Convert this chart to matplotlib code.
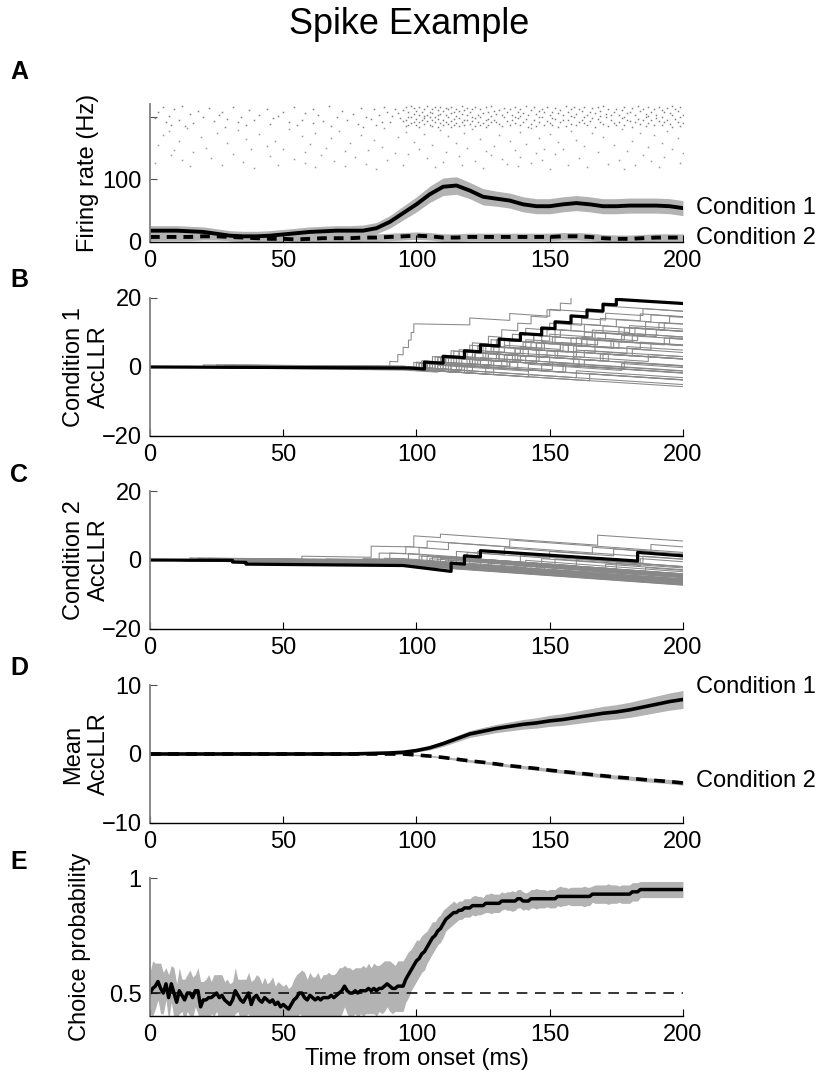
import numpy as np
import matplotlib
matplotlib.use('Agg')
import matplotlib.pyplot as plt

plt.rcParams['font.family'] = ['Liberation Sans', 'DejaVu Sans']

# ---------------- Panel A: firing rate (Hz), every 5 ms ----------------
rate_t = list(range(0, 201, 5))
rate_c1 = [18, 18, 18, 17, 16, 13, 10, 9, 9, 10, 12, 14, 16, 17, 18, 18, 18, 22, 32, 46, 60,
           76, 88, 90, 82, 72, 69, 66, 60, 57, 57, 60, 62, 60, 57, 57, 58, 58, 58, 57, 54]
rate_c1_sem = [8, 8, 8, 8, 8, 8, 8, 8, 8, 8, 8, 8, 8, 8, 8, 8, 9, 9, 10, 11, 12,
               13, 14, 14, 13, 13, 12, 12, 12, 12, 12, 12, 12, 12, 12, 12, 12, 12, 12, 12, 12]
rate_c2 = [8, 8, 8, 8, 9, 9, 8, 7, 6, 5, 5, 4, 5, 6, 6, 6, 7, 7, 8, 9, 10,
           9, 7, 7, 8, 8, 8, 8, 8, 8, 8, 9, 9, 8, 6, 5, 5, 6, 7, 7, 7]
rate_c2_sem = [6] * 41

# spike rasters (ms), one list per trial
raster_c1 = [
    [12, 67, 98, 104, 117, 128, 141, 156, 170, 183, 196],
    [31, 88, 101, 109, 122, 137, 149, 163, 178, 191],
    [5, 54, 96, 107, 113, 126, 144, 159, 168, 187, 199],
    [22, 79, 99, 111, 119, 133, 152, 166, 181, 194],
    [44, 92, 103, 115, 124, 139, 147, 161, 175, 189],
    [9, 61, 84, 106, 112, 121, 135, 158, 172, 185, 197],
    [37, 95, 108, 118, 131, 143, 154, 177, 192],
    [18, 72, 100, 110, 116, 129, 146, 162, 169, 184, 198],
    [50, 89, 105, 114, 127, 138, 151, 165, 180, 193],
    [3, 27, 97, 102, 120, 134, 148, 157, 174, 188],
    [58, 93, 106, 113, 125, 140, 153, 167, 179, 195],
    [15, 76, 99, 109, 117, 130, 145, 160, 171, 186],
    [41, 86, 104, 111, 123, 136, 150, 164, 176, 190, 200],
    [26, 63, 101, 108, 119, 132, 142, 155, 173, 182, 196],
    [7, 48, 91, 103, 115, 128, 139, 158, 169, 187],
    [34, 81, 98, 107, 121, 137, 146, 163, 178, 192],
    [20, 70, 97, 105, 112, 124, 133, 147, 159, 171, 186, 199],
    [2, 46, 94, 103, 116, 122, 138, 151, 166, 177, 190],
    [29, 83, 100, 108, 114, 127, 141, 152, 168, 183, 197],
    [11, 57, 96, 110, 118, 129, 136, 155, 162, 179, 188],
    [39, 74, 102, 106, 119, 126, 144, 157, 173, 185, 194],
    [24, 65, 95, 104, 113, 121, 134, 149, 165, 180, 191],
    [6, 52, 87, 101, 111, 123, 130, 146, 161, 176, 198],
    [33, 90, 99, 107, 117, 128, 140, 154, 169, 182, 193],
    [16, 61, 98, 109, 115, 125, 137, 150, 163, 174, 187, 200],
    [45, 78, 103, 112, 120, 131, 143, 158, 170, 184, 195],
    [8, 36, 97, 105, 114, 124, 139, 148, 164, 178, 189],
    [55, 85, 100, 110, 118, 127, 135, 151, 160, 175, 192],
    [13, 68, 96, 106, 116, 122, 132, 145, 156, 172, 186, 199],
    [28, 80, 101, 108, 113, 126, 142, 153, 167, 181, 196],
]
raster_c2 = [
    [14, 88, 143], [52, 121, 177], [33, 109], [7, 71, 158, 194], [96, 139],
    [25, 62, 184], [118, 166], [41, 103, 150], [5, 79, 131, 189], [57, 112],
    [19, 93, 170], [68, 146, 198], [36, 124], [84, 160], [11, 47, 135, 181],
    [99, 153], [29, 75, 115, 192], [60, 141], [3, 106, 174], [44, 129, 163],
    [87, 187], [21, 66, 119], [50, 148, 196], [38, 101, 155], [9, 82, 137],
    [73, 126, 179], [16, 58, 111, 168], [92, 145, 200],
    [31, 97, 152], [8, 64, 128, 185], [45, 116], [77, 139, 193], [23, 104, 161],
    [54, 132], [12, 89, 147, 176], [69, 122, 188], [35, 110], [2, 58, 143, 199],
    [81, 134, 172], [27, 95, 157], [48, 117, 182], [15, 73, 138], [62, 107, 164, 191],
    [39, 125], [85, 150, 178],
]

# ---------------- Panels B, C: single-trial AccLLR ----------------
# each trace: flat list of (time, value before step, value after step)
b_traces = [
    [0, 0, 0, 95, -0.5, -0.5, 104, -1.0, 1.2, 110, 0.9, 3.1, 116, 2.8, 5.0, 121, 4.8, 7.0, 127, 6.7, 8.9,
     132, 8.6, 10.8, 138, 10.5, 12.7, 143, 12.5, 14.7, 149, 14.4, 16.6, 154, 16.3, 18.5, 158, 18.3, 20.5, 160, 20.4, 20.4],
    [0, 0, 0, 90, -0.4, 1.6, 93, 1.5, 3.6, 95, 3.5, 5.7, 97, 5.6, 7.8, 98, 7.8, 10.0, 99, 10.0, 12.5,
     120, 12.2, 14.2, 135, 13.5, 15.5, 150, 14.7, 16.7, 170, 15.7, 17.7, 200, 16.2, 16.2],
    [0, 0, 0, 95, -0.5, -0.5, 103, -0.9, 1.1, 112, 0.7, 2.7, 118, 2.4, 4.4, 126, 4.0, 6.0, 135, 5.6, 7.6,
     144, 7.2, 9.2, 152, 8.8, 10.8, 163, 10.3, 12.3, 175, 11.7, 13.7, 188, 13.1, 15.1, 200, 14.5, 14.5],
    [0, 0, 0, 60, -0.3, 0.4, 95, 0.1, 0.1, 107, -0.5, 1.5, 115, 1.1, 3.1, 122, 2.8, 4.8, 133, 4.3, 6.3,
     141, 5.9, 7.9, 150, 7.5, 9.5, 166, 8.7, 10.7, 180, 10.0, 12.0, 200, 11.0, 11.0],
    [0, 0, 0, 95, -0.5, -0.5, 100, -0.7, 1.3, 109, 0.9, 2.9, 121, 2.3, 4.3, 129, 3.9, 5.9, 143, 5.2, 7.2,
     158, 6.4, 8.4, 171, 7.8, 9.8, 186, 9.1, 11.1, 200, 10.4, 10.4],
    [0, 0, 0, 35, -0.2, 0.5, 95, 0.0, 0.0, 111, -0.8, 1.2, 119, 0.8, 2.8, 130, 2.3, 4.3, 139, 3.9, 5.9,
     154, 5.1, 7.1, 168, 6.4, 8.4, 183, 7.6, 9.6, 200, 8.7, 8.7],
    [0, 0, 0, 95, -0.5, -0.5, 106, -1.0, 1.0, 114, 0.6, 2.6, 127, 1.9, 3.9, 146, 2.9, 4.9, 155, 4.4, 6.4,
     162, 6.0, 8.0, 177, 7.2, 9.2, 200, 8.1, 8.1],
    [0, 0, 0, 95, -0.5, -0.5, 99, -0.7, 1.3, 116, 0.5, 2.5, 131, 1.7, 3.7, 140, 3.2, 5.2, 157, 4.3, 6.3,
     174, 5.4, 7.4, 193, 6.4, 8.4, 200, 8.0, 8.0],
    [0, 0, 0, 95, -0.5, -0.5, 108, -1.1, 0.9, 120, 0.3, 2.3, 136, 1.5, 3.5, 149, 2.9, 4.9, 167, 4.0, 6.0,
     184, 5.2, 7.2, 200, 6.4, 6.4],
    [0, 0, 0, 20, -0.1, 0.6, 95, 0.2, 0.2, 102, -0.2, 1.8, 124, 0.7, 2.7, 138, 2.0, 4.0, 160, 2.9, 4.9,
     179, 3.9, 5.9, 200, 4.9, 4.9],
    [0, 0, 0, 95, -0.5, -0.5, 113, -1.4, 0.6, 122, 0.2, 2.2, 141, 1.2, 3.2, 153, 2.6, 4.6, 181, 3.2, 5.2,
     200, 4.2, 4.2],
    [0, 0, 0, 95, -0.5, -0.5, 118, -1.6, 0.4, 127, 0.0, 2.0, 150, 0.8, 2.8, 172, 1.7, 3.7, 200, 2.3, 2.3],
    [0, 0, 0, 70, -0.4, 0.3, 95, 0.1, 0.1, 121, -1.2, 0.8, 134, 0.2, 2.2, 159, 1.0, 3.0, 187, 1.6, 3.6,
     200, 3.0, 3.0],
    [0, 0, 0, 95, -0.5, -0.5, 104, -0.9, 1.1, 132, -0.3, 1.7, 163, 0.1, 2.1, 200, 0.3, 0.3],
    [0, 0, 0, 95, -0.5, -0.5, 126, -2.0, 0.0, 147, -1.0, 1.0, 178, -0.5, 1.5, 200, 0.4, 0.4],
    [0, 0, 0, 45, -0.3, 0.4, 95, 0.0, 0.0, 115, -1.0, 1.0, 151, -0.8, 1.2, 200, -1.2, -1.2],
    [0, 0, 0, 95, -0.5, -0.5, 110, -1.2, 0.8, 156, -1.5, 0.5, 200, -1.7, -1.7],
    [0, 0, 0, 95, -0.5, -0.5, 119, -1.7, 0.3, 200, -3.7, -3.7],
    [0, 0, 0, 25, -0.1, 0.6, 95, 0.2, 0.2, 160, -3.1, -1.1, 200, -3.1, -3.1],
    [0, 0, 0, 95, -0.5, -0.5, 200, -5.7, -5.7],
    [0, 0, 0, 55, -0.3, 0.4, 95, 0.1, 0.1, 200, -5.1, -5.1],
    [0, 0, 0, 95, -0.5, -0.5, 165, -4.0, -2.0, 200, -3.7, -3.7],
    [0, 0, 0, 95, -0.5, -0.5, 101, -0.8, 1.2, 106, 1.0, 3.0, 114, 2.6, 4.6, 125, 4.1, 6.1, 133, 5.7, 7.7,
     147, 7.0, 9.0, 154, 8.7, 10.7, 170, 9.9, 11.9, 186, 11.1, 13.1, 195, 12.6, 14.6, 200, 14.4, 14.4],
    [0, 0, 0, 95, -0.5, -0.5, 105, -1.0, 1.0, 123, 0.1, 2.1, 131, 1.7, 3.7, 152, 2.7, 4.7, 160, 4.3, 6.3,
     188, 4.9, 6.9, 200, 6.3, 6.3],
    [0, 0, 0, 95, -0.5, -0.5, 112, -1.4, 0.6, 129, -0.2, 1.8, 145, 1.0, 3.0, 170, 1.8, 3.8, 200, 2.3, 2.3],
    [0, 0, 0, 30, -0.2, 0.5, 95, 0.2, 0.2, 117, -0.9, 1.1, 135, 0.2, 2.2, 200, -1.1, -1.1],
    [0, 0, 0, 95, -0.9, -0.9, 108, -1.5, 0.5, 142, -1.2, 0.8, 177, -1.0, 1.0, 200, -0.2, -0.2],
    [0, 0, 0, 95, -0.5, -0.5, 102, -0.9, 1.1, 108, 0.8, 2.8, 119, 2.3, 4.3, 128, 3.8, 5.8, 140, 5.2, 7.2,
     151, 6.7, 8.7, 163, 8.1, 10.1, 176, 9.5, 11.5, 200, 10.3, 10.3],
    [0, 0, 0, 95, -0.6, -0.6, 109, -1.3, 0.7, 121, 0.1, 2.1, 134, 1.5, 3.5, 142, 3.1, 5.1, 159, 4.3, 6.3,
     173, 5.6, 7.6, 195, 6.5, 8.5, 200, 8.3, 8.3],
    [0, 0, 0, 95, -0.4, -0.4, 100, -0.6, 1.4, 113, 0.8, 2.8, 125, 2.2, 4.2, 131, 3.9, 5.9, 145, 5.2, 7.2,
     160, 6.5, 8.5, 167, 8.1, 10.1, 182, 9.4, 11.4, 191, 10.9, 12.9, 200, 12.5, 12.5],
    [0, 0, 0, 95, -0.5, -0.5, 116, -1.5, 0.5, 135, -0.5, 1.5, 161, 0.2, 2.2, 200, 0.2, 0.2],
    [0, 0, 0, 95, -0.5, -0.5, 129, -2.2, -0.2, 155, -1.5, 0.5, 200, -1.8, -1.8],
    [0, 0, 0, 95, -0.5, -0.5, 104, -1.0, 1.0, 111, 0.6, 2.6, 122, 2.1, 4.1, 137, 3.3, 5.3, 148, 4.8, 6.8,
     164, 6.0, 8.0, 200, 6.2, 6.2],
    [0, 0, 0, 95, -0.5, -0.5, 100, -0.7, 1.3, 107, 1.0, 3.0, 113, 2.7, 4.7, 120, 4.3, 6.3, 128, 5.9, 7.9,
     136, 7.5, 9.5, 141, 9.2, 11.2, 150, 10.7, 12.7, 162, 12.1, 14.1, 171, 13.6, 15.6, 185, 14.9, 16.9,
     200, 16.1, 16.1],
    [0, 0, 0, 28, -0.2, 0.5, 95, 0.1, 0.1, 103, -0.3, 1.7, 111, 1.3, 3.3, 126, 2.5, 4.5, 139, 3.8, 5.8,
     147, 5.4, 7.4, 162, 6.6, 8.6, 178, 7.8, 9.8, 200, 8.7, 8.7],
    [0, 0, 0, 95, -0.5, -0.5, 105, -1.0, 1.0, 117, 0.4, 2.4, 133, 1.6, 3.6, 145, 3.0, 5.0, 154, 4.5, 6.5,
     176, 5.4, 7.4, 200, 6.2, 6.2],
    [0, 0, 0, 95, -0.5, -0.5, 110, -1.2, 0.8, 124, 0.1, 2.1, 139, 1.3, 3.3, 169, 1.8, 3.8, 200, 2.3, 2.3],
    [0, 0, 0, 65, -0.4, 0.3, 95, 0.1, 0.1, 107, -0.5, 1.5, 128, 0.5, 2.5, 146, 1.6, 3.6, 163, 2.8, 4.8,
     200, 3.0, 3.0],
    [0, 0, 0, 95, -0.5, -0.5, 113, -1.4, 0.6, 138, -0.6, 1.4, 200, -1.7, -1.7],
    [0, 0, 0, 95, -0.5, -0.5, 101, -0.8, 1.2, 108, 0.9, 2.9, 116, 2.5, 4.5, 123, 4.2, 6.2, 130, 5.9, 7.9,
     144, 7.2, 9.2, 149, 9.0, 11.0, 158, 10.6, 12.6, 169, 12.1, 14.1, 184, 13.4, 15.4, 200, 14.6, 14.6],
    [0, 0, 0, 95, -0.5, -0.5, 104, -1.0, 1.0, 120, 0.2, 2.2, 127, 1.9, 3.9, 142, 3.1, 5.1, 157, 4.4, 6.4,
     167, 5.9, 7.9, 181, 7.2, 9.2, 190, 8.8, 10.8, 200, 10.3, 10.3],
    [0, 0, 0, 95, -0.5, -0.5, 142, -2.9, -0.9, 200, -3.8, -3.8],
    [0, 0, 0, 95, -0.5, -0.5, 106, -1.0, 1.0, 121, 0.3, 2.3, 137, 1.5, 3.5, 159, 2.4, 4.4, 200, 2.4, 2.4],
    [0, 0, 0, 95, -0.5, -0.5, 103, -0.9, 1.1, 115, 0.5, 2.5, 122, 2.2, 4.2, 137, 3.4, 5.4, 145, 5.0, 7.0,
     152, 6.7, 8.7, 166, 8.0, 10.0, 178, 9.4, 11.4, 193, 10.7, 12.7, 200, 12.4, 12.4],
]
b_black = [0, 0, 0, 97, -0.3, -0.3, 103, -0.6, 1.4, 110, 1.1, 3.1, 118, 2.7, 4.7, 124, 4.4, 6.4,
           131, 6.1, 8.1, 139, 7.7, 9.7, 147, 9.3, 11.3, 152, 11.1, 13.1, 158, 12.8, 14.8,
           164, 14.5, 16.5, 170, 16.2, 18.2, 175, 18.0, 19.6, 200, 18.4, 18.4]

c_traces = [
    [0, 0, 0, 95, -1.2, -1.2, 200, -7.0, -7.0],
    [0, 0, 0, 95, -0.9, -0.9, 200, -6.7, -6.7],
    [0, 0, 0, 40, -0.4, 0.3, 95, -0.3, -0.3, 200, -6.1, -6.1],
    [0, 0, 0, 95, -1.0, -1.0, 200, -6.8, -6.8],
    [0, 0, 0, 62, -0.6, 0.1, 95, -0.3, -0.3, 200, -6.2, -6.2],
    [0, 0, 0, 95, -0.7, -0.7, 200, -6.5, -6.5],
    [0, 0, 0, 18, -0.2, 0.5, 80, -0.3, 0.4, 95, 0.2, 0.2, 200, -5.6, -5.6],
    [0, 0, 0, 95, -0.8, -0.8, 178, -5.4, -3.4, 200, -4.6, -4.6],
    [0, 0, 0, 50, -0.5, 0.2, 95, -0.3, -0.3, 200, -6.0, -6.0],
    [0, 0, 0, 95, -1.1, -1.1, 156, -4.5, -2.5, 200, -4.9, -4.9],
    [0, 0, 0, 33, -0.3, 0.4, 95, -0.3, -0.3, 133, -2.4, -0.4, 200, -4.1, -4.1],
    [0, 0, 0, 95, -0.6, -0.6, 200, -6.3, -6.3],
    [0, 0, 0, 72, -0.7, 0.0, 95, -0.3, -0.3, 189, -5.5, -3.5, 200, -4.1, -4.1],
    [0, 0, 0, 95, -0.9, -0.9, 118, -2.2, -0.2, 200, -4.7, -4.7],
    [0, 0, 0, 57, -0.6, 0.1, 88, -0.2, 0.5, 95, 0.4, 0.4, 141, -2.1, -0.1, 200, -3.4, -3.4],
    [0, 0, 0, 95, -0.8, -0.8, 200, -6.6, -6.6],
    [0, 0, 0, 26, -0.3, 0.4, 95, -0.2, -0.2, 104, -0.7, 1.3, 200, -4.0, -4.0],
    [0, 0, 0, 95, -1.0, -1.0, 127, -2.8, -0.8, 171, -3.2, -1.2, 200, -2.8, -2.8],
    [0, 0, 0, 45, -0.4, 0.3, 95, -0.2, -0.2, 112, -1.1, 0.9, 160, -1.7, 0.3, 200, -1.9, -1.9],
    [0, 0, 0, 95, -0.7, -0.7, 109, -1.5, 0.5, 147, -1.6, 0.4, 184, -1.6, 0.4, 200, -0.5, -0.5],
    [0, 0, 0, 57, -0.5, 1.1, 83, 0.8, 4.0, 99, 3.8, 7.0, 109, 6.5, 7.5, 168, 4.3, 7.2, 200, 5.5, 5.5],
    [0, 0, 0, 66, -0.5, 0.3, 90, 0.1, 2.0, 101, 1.6, 3.6, 112, 3.0, 5.0, 200, 0.2, 0.2],
    [0, 0, 0, 95, -0.5, -0.5, 106, -1.1, 0.9, 119, 0.2, 2.2, 150, 0.5, 2.5, 174, 1.2, 3.2, 200, 1.8, 1.8],
    [0, 0, 0, 80, -0.7, 0.0, 97, -0.1, 1.9, 123, 0.5, 2.5, 185, -0.9, 1.1, 200, 0.3, 0.3],
    [0, 0, 0, 95, -0.4, -0.4, 102, -0.8, 1.2, 115, 0.5, 2.5, 133, 1.5, 3.5, 166, 1.7, 3.7, 188, 2.5, 4.5,
     200, 3.8, 3.8],
    [0, 0, 0, 95, -1.3, -1.3, 200, -7.1, -7.1],
    [0, 0, 0, 95, -1.1, -1.1, 200, -6.9, -6.9],
    [0, 0, 0, 39, -0.4, 0.3, 95, -0.2, -0.2, 200, -5.9, -5.9],
    [0, 0, 0, 95, -0.6, -0.6, 200, -6.4, -6.4],
    [0, 0, 0, 95, -0.9, -0.9, 148, -3.8, -1.8, 200, -4.7, -4.7],
    [0, 0, 0, 22, -0.2, 0.5, 95, -0.1, -0.1, 200, -5.8, -5.8],
    [0, 0, 0, 95, -1.4, -1.4, 200, -7.2, -7.2],
    [0, 0, 0, 95, -0.2, -0.2, 200, -5.4, -5.4],
    [0, 0, 0, 76, -0.7, 0.0, 95, -0.2, -0.2, 200, -5.0, -5.0],
    [0, 0, 0, 95, -0.6, -0.6, 113, -1.6, 0.4, 200, -4.4, -4.4],
    [0, 0, 0, 95, -1.5, -1.5, 200, -7.3, -7.3],
    [0, 0, 0, 95, -1.2, -1.2, 132, -3.2, -1.2, 200, -5.0, -5.0],
    [0, 0, 0, 48, -0.5, 0.2, 95, -0.2, -0.2, 120, -1.6, 0.4, 200, -4.0, -4.0],
    [0, 0, 0, 95, -0.85, -0.85, 200, -6.6, -6.6],
    [0, 0, 0, 95, -1.0, -1.0, 105, -1.6, 0.4, 200, -4.8, -4.8],
    [0, 0, 0, 30, -0.3, 0.4, 95, -0.3, -0.3, 162, -4.0, -2.0, 200, -4.1, -4.1],
    [0, 0, 0, 95, -0.6, -0.6, 115, -1.7, 0.3, 152, -1.7, 0.3, 200, -2.3, -2.3],
    [0, 0, 0, 95, -1.3, -1.3, 137, -3.6, -1.6, 200, -5.1, -5.1],
    [0, 0, 0, 67, -0.6, 0.1, 95, -0.2, -0.2, 108, -0.9, 1.1, 139, -0.6, 1.4, 200, -1.9, -1.9],
    [0, 0, 0, 95, -0.4, -0.4, 170, -4.5, -2.5, 200, -4.2, -4.2],
    [0, 0, 0, 95, -1.0, -1.0, 200, -6.4, -6.4],
    [0, 0, 0, 53, -0.5, 0.2, 95, -0.2, -0.2, 200, -5.7, -5.7],
    [0, 0, 0, 95, -0.7, -0.7, 124, -2.3, -0.3, 200, -4.5, -4.5],
    [0, 0, 0, 95, -1.2, -1.2, 143, -3.8, -1.8, 186, -4.2, -2.2, 200, -3.0, -3.0],
    [0, 0, 0, 95, -0.5, -0.5, 101, -0.8, 1.2, 200, -4.2, -4.2],
    [0, 0, 0, 84, -0.8, -0.1, 95, -0.2, -0.2, 128, -2.0, 0.0, 175, -2.6, -0.6, 200, -2.0, -2.0],
    [0, 0, 0, 95, -0.9, -0.9, 200, -6.2, -6.2],
    [0, 0, 0, 95, -1.1, -1.1, 111, -2.0, 0.0, 200, -4.9, -4.9],
    [0, 0, 0, 15, -0.1, 0.6, 95, 0.0, 0.0, 200, -5.5, -5.5],
    [0, 0, 0, 95, -0.6, -0.6, 145, -3.3, -1.3, 200, -4.3, -4.3],
    [0, 0, 0, 61, -0.5, 0.2, 86, 0.0, 2.0, 96, 1.9, 3.9, 104, 3.5, 5.5, 135, 3.8, 5.8, 200, 2.2, 2.2],
]
c_black = [0, 0, 0, 31, -0.1, -0.6, 36, -0.7, -1.2, 95, -1.6, -1.6, 113, -3.3, -0.9, 118, -1.2, 1.2,
           124, 0.9, 2.7, 183, -0.3, 2.2, 200, 1.2, 1.2]

# ---------------- Panel D: mean AccLLR, every 5 ms ----------------
d_t = list(range(0, 201, 5))
d_c1 = [0, 0, 0, 0, 0, 0, 0, 0, 0, 0, 0, 0, 0, 0, 0, 0, 0.05, 0.1, 0.15, 0.25, 0.5,
        0.9, 1.5, 2.2, 2.9, 3.3, 3.7, 4.0, 4.3, 4.5, 4.8, 5.0, 5.3, 5.6, 5.9, 6.1, 6.4, 6.8, 7.2, 7.6, 7.9]
d_c1_sem = [0.05] * 16 + [0.08, 0.1, 0.12, 0.15, 0.2, 0.3, 0.4, 0.45, 0.5, 0.55, 0.6, 0.65, 0.7, 0.75, 0.8,
                          0.85, 0.9, 0.95, 1.0, 1.05, 1.1, 1.15, 1.2, 1.25, 1.3]
d_c2 = [0] * 20 + [-0.15, -0.3, -0.5, -0.75, -1.0, -1.2, -1.45, -1.7, -1.9, -2.1, -2.35, -2.55, -2.75,
                   -2.95, -3.15, -3.35, -3.5, -3.7, -3.85, -4.0, -4.2]
d_c2_sem = [0.05] * 20 + [0.1, 0.12, 0.15, 0.17, 0.2, 0.2, 0.22, 0.22, 0.25, 0.25, 0.25, 0.27, 0.27,
                          0.28, 0.28, 0.3, 0.3, 0.3, 0.3, 0.32, 0.32]

# ---------------- Panel E: choice probability, every 1 ms ----------------
e_t = list(range(0, 201))
e_cp = [0.50, 0.52, 0.53, 0.55, 0.52, 0.50, 0.54, 0.48, 0.54, 0.50,
        0.46, 0.51, 0.49, 0.47, 0.50, 0.50, 0.48, 0.51, 0.51, 0.44,
        0.47, 0.47, 0.48, 0.48, 0.49, 0.50, 0.48, 0.49, 0.47, 0.46,
        0.45, 0.47, 0.51, 0.49, 0.47, 0.46, 0.48, 0.50, 0.45, 0.48,
        0.49, 0.47, 0.46, 0.48, 0.47, 0.46, 0.47, 0.45, 0.46, 0.44,
        0.45, 0.44, 0.43, 0.45, 0.47, 0.48, 0.50, 0.50, 0.48, 0.47,
        0.49, 0.48, 0.47, 0.48, 0.47, 0.48, 0.48, 0.48, 0.49, 0.48,
        0.49, 0.50, 0.51, 0.53, 0.51, 0.50, 0.50, 0.51, 0.50, 0.51,
        0.51, 0.51, 0.52, 0.51, 0.52, 0.51, 0.52, 0.52, 0.53, 0.54,
        0.53, 0.52, 0.52, 0.53, 0.53, 0.53, 0.56, 0.58, 0.60, 0.62,
        0.64, 0.65, 0.67, 0.68, 0.70, 0.72, 0.74, 0.75, 0.77, 0.78,
        0.80, 0.82, 0.83, 0.84, 0.85, 0.85, 0.86, 0.86, 0.87, 0.87,
        0.87, 0.88, 0.88, 0.88, 0.88, 0.88, 0.89, 0.89, 0.89, 0.89,
        0.89, 0.89, 0.90, 0.90, 0.90, 0.90, 0.90, 0.90, 0.91, 0.91,
        0.90, 0.90, 0.90, 0.91, 0.91, 0.91, 0.91, 0.91, 0.91, 0.91,
        0.91, 0.91, 0.91, 0.92, 0.92, 0.92, 0.92, 0.92, 0.92, 0.92,
        0.92, 0.92, 0.92, 0.92, 0.92, 0.92, 0.93, 0.93, 0.93, 0.93,
        0.93, 0.93, 0.93, 0.93, 0.93, 0.93, 0.93, 0.93, 0.93, 0.93,
        0.93, 0.94, 0.94, 0.94, 0.95, 0.95, 0.95, 0.95, 0.95, 0.95,
        0.95, 0.95, 0.95, 0.95, 0.95, 0.95, 0.95, 0.95, 0.95, 0.95,
        0.95]
e_sem = [0.09, 0.12, 0.10, 0.08, 0.11, 0.09, 0.07, 0.10, 0.08, 0.11,
         0.08, 0.10, 0.07, 0.09, 0.08, 0.10, 0.09, 0.07, 0.10, 0.11,
         0.08, 0.09, 0.10, 0.07, 0.09, 0.08, 0.10, 0.09, 0.08, 0.10,
         0.09, 0.08, 0.10, 0.07, 0.09, 0.10, 0.08, 0.09, 0.10, 0.08,
         0.09, 0.10, 0.08, 0.09, 0.07, 0.09, 0.10, 0.08, 0.09, 0.10,
         0.08, 0.10, 0.09, 0.08, 0.09, 0.10, 0.09, 0.10, 0.11, 0.09,
         0.10, 0.09, 0.10, 0.11, 0.09, 0.10, 0.10, 0.11, 0.09, 0.10,
         0.10, 0.11, 0.10, 0.09, 0.10, 0.11, 0.10, 0.10, 0.11, 0.10,
         0.11, 0.10, 0.11, 0.10, 0.11, 0.11, 0.10, 0.11, 0.11, 0.10,
         0.11, 0.11, 0.10, 0.11, 0.11, 0.11, 0.10, 0.10, 0.09, 0.09,
         0.09, 0.08, 0.08, 0.08, 0.07, 0.07, 0.07, 0.06, 0.06, 0.06,
         0.06, 0.05, 0.05, 0.05, 0.05, 0.04, 0.04, 0.04, 0.04, 0.04,
         0.04, 0.04, 0.045, 0.04, 0.04, 0.035, 0.04, 0.04, 0.045, 0.04,
         0.04, 0.04, 0.04, 0.035, 0.04, 0.04, 0.045, 0.04, 0.04, 0.04,
         0.04, 0.035, 0.04, 0.04, 0.04, 0.045, 0.04, 0.04, 0.04, 0.035,
         0.04, 0.04, 0.04, 0.04, 0.045, 0.04, 0.04, 0.035, 0.04, 0.04,
         0.04, 0.04, 0.04, 0.045, 0.04, 0.04, 0.035, 0.04, 0.04, 0.04,
         0.04, 0.04, 0.045, 0.04, 0.04, 0.04, 0.035, 0.04, 0.04, 0.04,
         0.04, 0.04, 0.04, 0.04, 0.035, 0.035, 0.035, 0.035, 0.035, 0.035,
         0.035, 0.035, 0.035, 0.035, 0.035, 0.035, 0.035, 0.035, 0.035, 0.035,
         0.035]
chance = 0.5

BAND = '#b3b3b3'
TRACE = '#888888'
FS = 17


def steps_xy(trace):
    '''(t, before, after) triples -> polyline with vertical jumps'''
    a = np.asarray(trace, float).reshape(-1, 3)
    return np.repeat(a[:, 0], 2), a[:, 1:].ravel()


def style(ax, ylim, yticks, yticklabels=None):
    ax.set_xlim(0, 200)
    ax.set_ylim(*ylim)
    ax.set_xticks([0, 50, 100, 150, 200])
    ax.set_yticks(yticks)
    if yticklabels is not None:
        ax.set_yticklabels(yticklabels)
    for s in ['top', 'right']:
        ax.spines[s].set_visible(False)
    ax.spines['left'].set_color('#808080')
    ax.spines['left'].set_linewidth(1.3)
    ax.spines['bottom'].set_linewidth(1.0)
    ax.tick_params(direction='in', length=5, labelsize=FS, pad=6)
    ax.tick_params(axis='y', color='#505050')


fig = plt.figure(figsize=(8.25, 10.73), dpi=100)
left, width, height = 0.1818, 0.646, 0.1286
bottoms = [0.7745, 0.5937, 0.4138, 0.2330, 0.0531]
axA, axB, axC, axD, axE = [fig.add_axes([left, b, width, height]) for b in bottoms]

# A
for i, row in enumerate(raster_c1):
    axA.plot(row, [217 - i * 1.15] * len(row), 's', ms=1.1, mew=0, color='0.5')
for i, row in enumerate(raster_c2):
    axA.plot(row, [182 - i * 1.5] * len(row), 's', ms=1.1, mew=0, color='0.6')
r1, s1 = np.array(rate_c1), np.array(rate_c1_sem)
r2, s2 = np.array(rate_c2), np.array(rate_c2_sem)
axA.fill_between(rate_t, r2 - s2, r2 + s2, color=BAND, lw=0)
axA.fill_between(rate_t, r1 - s1, r1 + s1, color=BAND, lw=0)
axA.plot(rate_t, r2, color='k', lw=2.8, dashes=(2.5, 1.8))
axA.plot(rate_t, r1, color='k', lw=2.8)
style(axA, (0, 220), [0, 100, 200], ['0', '100', ''])
axA.set_ylabel('Firing rate (Hz)', fontsize=FS)
axA.yaxis.set_label_coords(-0.095, 0.5)
axA.text(205, rate_c1[-1], 'Condition 1', fontsize=FS, va='center', clip_on=False)
axA.text(205, rate_c2[-1], 'Condition 2', fontsize=FS, va='center', clip_on=False)

# B
for tr in b_traces:
    axB.plot(*steps_xy(tr), color=TRACE, lw=0.75)
axB.plot(*steps_xy(b_black), color='k', lw=2.3)
style(axB, (-20, 20), [-20, 0, 20])
axB.set_ylabel('Condition 1\nAccLLR', fontsize=FS)
axB.yaxis.set_label_coords(-0.075, 0.5)

# C
for tr in c_traces:
    axC.plot(*steps_xy(tr), color=TRACE, lw=0.75)
axC.plot(*steps_xy(c_black), color='k', lw=2.3)
style(axC, (-20, 20), [-20, 0, 20])
axC.set_ylabel('Condition 2\nAccLLR', fontsize=FS)
axC.yaxis.set_label_coords(-0.075, 0.5)

# D
m1, e1 = np.array(d_c1), np.array(d_c1_sem)
m2, e2 = np.array(d_c2), np.array(d_c2_sem)
axD.fill_between(d_t, m2 - e2, m2 + e2, color=BAND, lw=0)
axD.fill_between(d_t, m1 - e1, m1 + e1, color=BAND, lw=0)
axD.plot(d_t, m2, color='k', lw=2.6, dashes=(3, 2))
axD.plot(d_t, m1, color='k', lw=2.6)
style(axD, (-10, 10), [-10, 0, 10])
axD.set_ylabel('Mean\nAccLLR', fontsize=FS)
axD.yaxis.set_label_coords(-0.075, 0.5)
axD.text(205, d_c1[-1] + 1.8, 'Condition 1', fontsize=FS, va='center', clip_on=False)
axD.text(205, d_c2[-1] + 0.3, 'Condition 2', fontsize=FS, va='center', clip_on=False)

# E
cp, ce = np.array(e_cp), np.array(e_sem)
axE.fill_between(e_t, cp - ce, cp + ce, color=BAND, lw=0)
axE.axhline(chance, color='k', lw=1.1, dashes=(7, 5))
axE.plot(e_t, cp, color='k', lw=2.5)
style(axE, (0.4, 1), [0.5, 1], ['0.5', '1'])
axE.set_ylabel('Choice probability', fontsize=FS)
axE.yaxis.set_label_coords(-0.11, 0.5)
axE.set_xlabel('Time from onset (ms)', fontsize=FS, labelpad=1)

fig.text(0.496, 0.977, 'Spike Example', ha='center', va='center', fontsize=26)
for letter, y in zip('ABCDE', [0.933, 0.739, 0.557, 0.377, 0.197]):
    fig.text(0.012, y, letter, fontsize=18, fontweight='bold', va='center')

fig.savefig('out.png', dpi=100)
